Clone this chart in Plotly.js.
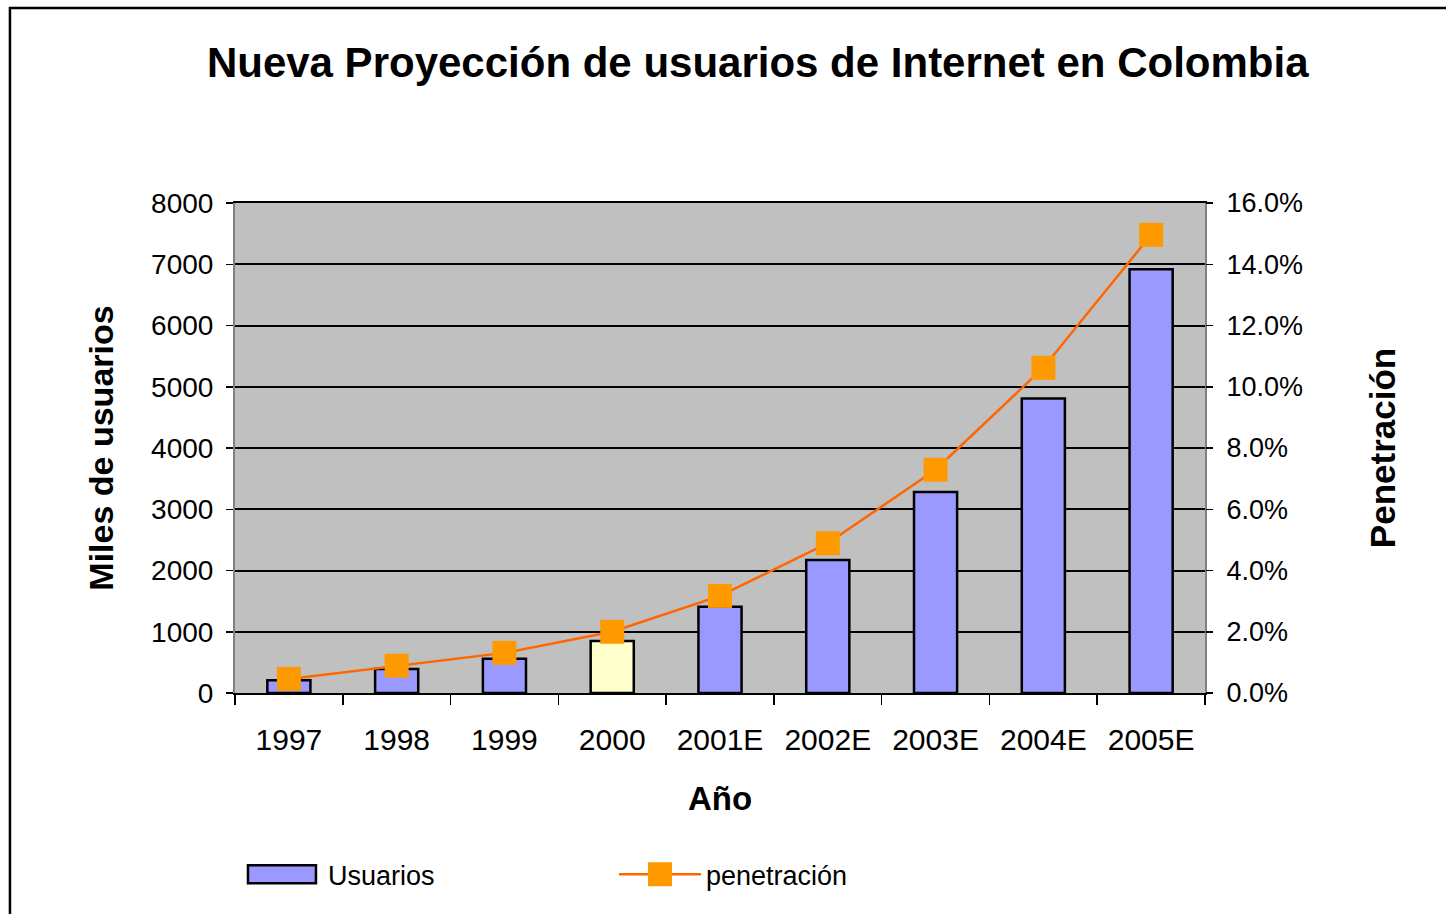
<!DOCTYPE html>
<html>
<head>
<meta charset="utf-8">
<script src="https://cdn.plot.ly/plotly-3.0.1.min.js"></script>
<style>html,body{margin:0;padding:0;background:#fff;}#chart{width:1446px;height:914px;}</style>
</head>
<body>
<div id="chart"></div>
<script>
var years = ['1997', '1998', '1999', '2000', '2001E', '2002E', '2003E', '2004E', '2005E'];
var usuarios = [210, 390, 560, 850, 1410, 2170, 3280, 4810, 6920];
var penetracion = [0.0046, 0.0089, 0.0131, 0.0200, 0.0317, 0.0489, 0.0729, 0.1062, 0.1496];
var leftTicks = [0, 1000, 2000, 3000, 4000, 5000, 6000, 7000, 8000];
var rightTicks = [0, 0.02, 0.04, 0.06, 0.08, 0.10, 0.12, 0.14, 0.16];

var FONT = 'Liberation Sans, Arial, sans-serif';
var barColors = years.map(function (y) { return y === '2000' ? '#FFFFCC' : '#9999FF'; });

var traces = [
  {
    type: 'bar', name: 'Usuarios', x: years, y: usuarios,
    marker: { color: barColors, line: { color: '#000000', width: 2.5 } },
    yaxis: 'y'
  },
  {
    type: 'scatter', mode: 'lines+markers', name: 'penetración', x: years, y: penetracion,
    line: { color: '#FF6600', width: 2.5 },
    marker: { symbol: 'square', size: 24, color: '#FF9900' },
    yaxis: 'y2'
  }
];

var layout = {
  width: 1446, height: 914,
  margin: { l: 235, r: 241, t: 203, b: 221 },
  paper_bgcolor: '#FFFFFF', plot_bgcolor: '#C0C0C0',
  font: { family: FONT, color: '#000000' },
  bargap: 0.6,
  showlegend: true,
  title: {
    text: '<b>Nueva Proyección de usuarios de Internet en Colombia</b>',
    font: { family: FONT, size: 42, color: '#000' },
    xref: 'container', x: 0.524, xanchor: 'center',
    yref: 'container', y: 1 - 62 / 914, yanchor: 'middle'
  },
  xaxis: {
    type: 'category', range: [-0.5, 8.5], autorange: false,
    tickson: 'boundaries', ticks: 'outside', ticklen: 10, tickwidth: 1.5, tickcolor: '#000',
    tickfont: { family: FONT, size: 30 }, ticklabelstandoff: 19,
    showline: true, linecolor: '#000', linewidth: 2, mirror: true,
    showgrid: false,
    title: { text: '<b>Año</b>', font: { family: FONT, size: 33 }, standoff: 32 }
  },
  yaxis: {
    range: [0, 8000], autorange: false, tickvals: leftTicks, ticktext: leftTicks.map(String),
    ticks: 'outside', ticklen: 7, tickwidth: 1.5, tickcolor: '#000',
    tickfont: { family: FONT, size: 28 }, ticklabelstandoff: 7,
    showgrid: true, gridcolor: '#000', gridwidth: 2,
    zeroline: false,
    showline: true, linecolor: '#808080', linewidth: 2, mirror: true,
    title: { text: '<b>Miles de usuarios</b>', font: { family: FONT, size: 34 }, standoff: 27 }
  },
  yaxis2: {
    overlaying: 'y', side: 'right', range: [0, 0.16], autorange: false, tickvals: rightTicks,
    ticktext: rightTicks.map(function (v) { return (v * 100).toFixed(1) + '%'; }),
    ticks: 'outside', ticklen: 7, tickwidth: 1.5, tickcolor: '#000',
    tickfont: { family: FONT, size: 27 }, ticklabelstandoff: 8,
    showgrid: false, zeroline: false, showline: false,
    title: { text: '<b>Penetración</b>', font: { family: FONT, size: 35 }, standoff: 68 }
  },
  legend: {
    orientation: 'h', x: 0.001, xanchor: 'left', y: -0.371, yanchor: 'middle',
    font: { family: FONT, size: 27 }, entrywidth: 281, entrywidthmode: 'pixels',
    bgcolor: 'rgba(0,0,0,0)', itemwidth: 82
  },
  shapes: [
    { type: 'rect', xref: 'paper', yref: 'paper', x0: -0.232, x1: 1.35, y0: -0.6, y1: 1.398,
      line: { color: '#000', width: 2.5 }, fillcolor: 'rgba(0,0,0,0)', layer: 'below' }
  ]
};

Plotly.newPlot('chart', traces, layout, { displayModeBar: false, staticPlot: true }).then(function (gd) {
  var items = gd.querySelectorAll('.legend .traces');
  if (items[0]) {
    items[0].querySelectorAll('.legendpoints path').forEach(function (p) {
      p.setAttribute('d', 'M34,9H-34V-9H34Z');
    });
  }
  if (items[1]) {
    items[1].querySelectorAll('.legendpoints path.scatterpts, .legendpoints .scatterpts path').forEach(function (p) {
      p.setAttribute('d', 'M12,12H-12V-12H12Z');
    });
  }
});
</script>
</body>
</html>
